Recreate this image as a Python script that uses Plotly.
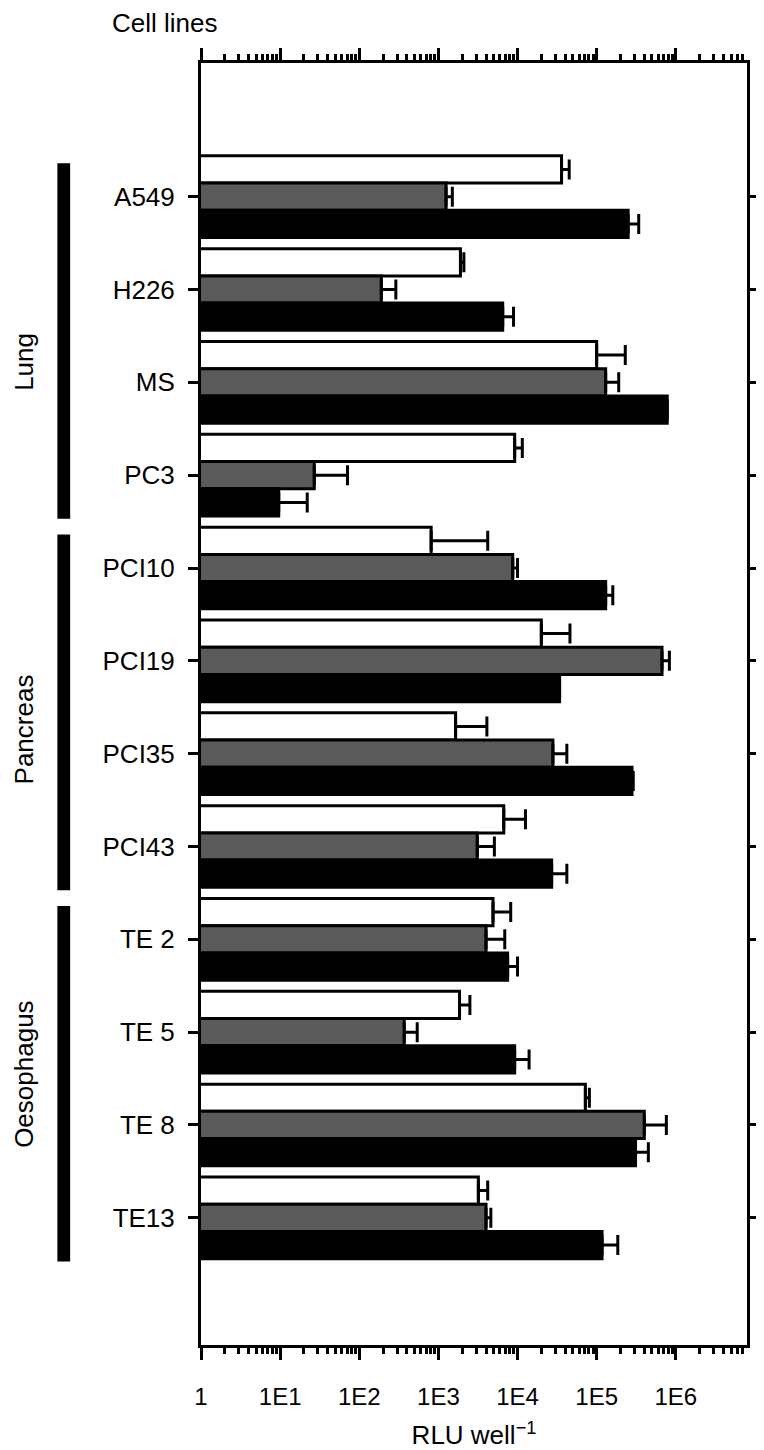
import plotly.graph_objects as go

categories = ["A549", "H226", "MS", "PC3", "PCI10", "PCI19", "PCI35", "PCI43",
              "TE 2", "TE 5", "TE 8", "TE13"]
white = [3.6e4, 1.9e3, 1.0e5, 9.2e3, 8.1e2, 2.0e4, 1.65e3, 6.7e3, 4.9e3, 1.85e3, 7.2e4, 3.2e3]
white_top = [4.5e4, 2.1e3, 2.3e5, 1.15e4, 4.2e3, 4.6e4, 4.1e3, 1.26e4, 8.2e3, 2.5e3, 8.1e4, 4.2e3]
gray = [1.25e3, 1.9e2, 1.3e5, 27, 8.7e3, 6.7e5, 2.8e4, 3.1e3, 4.0e3, 3.7e2, 4.0e5, 4.0e3]
gray_top = [1.5e3, 2.9e2, 1.9e5, 71, 1.0e4, 8.3e5, 4.2e4, 5.1e3, 6.9e3, 5.4e2, 7.6e5, 4.6e3]
black = [2.5e5, 6.5e3, 7.8e5, 9.6, 1.3e5, 3.4e4, 2.8e5, 2.7e4, 7.5e3, 9.2e3, 3.1e5, 1.17e5]
black_top = [3.4e5, 8.9e3, 7.8e5, 22, 1.6e5, 3.4e4, 2.9e5, 4.2e4, 1.0e4, 1.4e4, 4.5e5, 1.85e5]

tick_vals = [1, 1e1, 1e2, 1e3, 1e4, 1e5, 1e6]
tick_text = ["1", "1E1", "1E2", "1E3", "1E4", "1E5", "1E6"]

# group name, first and last category index, label centre (category units)
groups = [("Lung", 0, 3, 1.78), ("Pancreas", 4, 7, 5.74), ("Oesophagus", 8, 11, 9.45)]

FONT = "Liberation Sans, Arial, Helvetica, sans-serif"
FS = 26

fig = go.Figure()
for vals, tops, fill in [(white, white_top, "#ffffff"),
                         (gray, gray_top, "#5a5a5a"),
                         (black, black_top, "#000000")]:
    fig.add_trace(go.Bar(
        y=categories, x=vals, orientation="h",
        marker=dict(color=fill, line=dict(color="#000000", width=3)),
        error_x=dict(type="data", symmetric=False,
                     array=[t - v for t, v in zip(tops, vals)],
                     arrayminus=[0] * len(vals),
                     color="#000000", thickness=3, width=10),
        showlegend=False,
    ))

minor_vals = [k * 10 ** d for d in range(7) for k in range(2, 10) if k * 10 ** d < 10 ** 6.9]

fig.update_layout(
    width=764, height=1450,
    margin=dict(l=193, r=16, t=55, b=100),
    paper_bgcolor="white", plot_bgcolor="white",
    barmode="group", bargap=0.12, bargroupgap=0,
    font=dict(family=FONT, size=FS, color="#000000"),
    xaxis=dict(
        type="log", range=[0, 6.9],
        tickvals=tick_vals, ticktext=tick_text,
        ticks="outside", ticklen=12, tickwidth=3, tickcolor="#000000",
        minor=dict(tickvals=minor_vals, ticks="outside", ticklen=6, tickwidth=3,
                   tickcolor="#000000", showgrid=False),
        showline=True, linewidth=3, linecolor="#000000", mirror="ticks",
        showgrid=False, zeroline=False,
        title=dict(text="RLU well<sup>−1</sup>", standoff=18, font=dict(size=FS)),
        tickfont=dict(size=24), ticklabelstandoff=16,
    ),
    yaxis=dict(
        type="category", range=[12.37, -1.44],
        ticks="outside", ticklen=10, tickwidth=3, tickcolor="#000000",
        showline=True, linewidth=3, linecolor="#000000", mirror="ticks",
        showgrid=False, zeroline=False,
        tickfont=dict(size=FS), ticklabelstandoff=8,
    ),
)

for name, i0, i1, yc in groups:
    fig.add_shape(type="rect", xref="paper", yref="y",
                  x0=(47 - 193) / 555, x1=(60 - 193) / 555,
                  y0=i0 - 0.36, y1=i1 + 0.47,
                  fillcolor="#000000", line=dict(width=0), layer="above")
    fig.add_annotation(xref="paper", yref="y", x=(13 - 193) / 555,
                       y=yc, text=name, textangle=-90,
                       showarrow=False, xanchor="center", yanchor="middle",
                       font=dict(size=FS, family=FONT))

fig.add_annotation(xref="paper", yref="paper", x=(100 - 193) / 555, y=1 + 40 / 1295,
                   text="Cell lines", showarrow=False, xanchor="left", yanchor="middle",
                   font=dict(size=FS, family=FONT))

fig.write_html("out.html")
